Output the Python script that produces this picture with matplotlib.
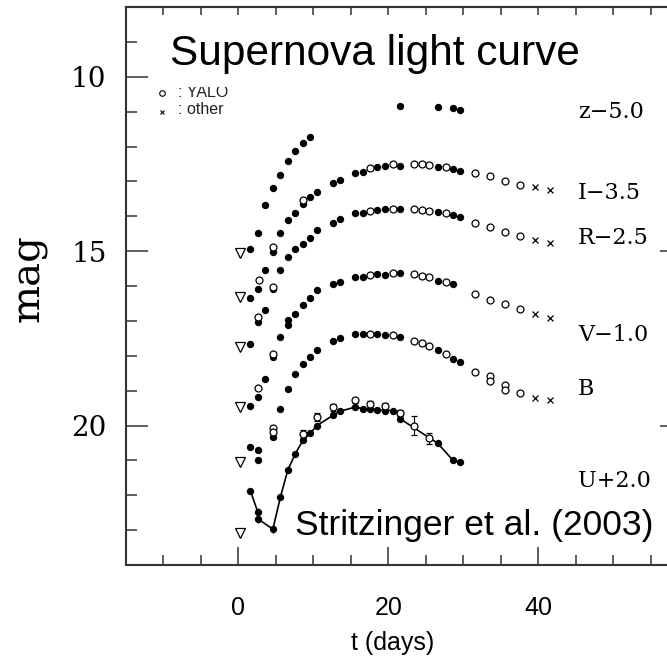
import numpy as np
import matplotlib.pyplot as plt
from matplotlib.ticker import MultipleLocator

# light curves of the supernova, t in days, magnitudes with band offsets applied
# kind per point: 'f' filled dot, 'o' YALO, 'x' other (spaces only group the codes)
z_t = [1.6, 2.6, 3.6, 4.6, 5.6, 6.6, 7.6, 8.6, 9.6, 21.6, 26.6, 28.6, 29.6]
z_m = [14.95, 14.49, 13.68, 13.18, 12.82, 12.43, 12.12, 11.91, 11.73, 10.83, 10.87, 10.90, 10.95]
z_kind = "fff fff fff fff f"

I_t = [1.6, 2.6, 2.7, 3.6, 4.6, 4.6, 5.6, 6.6, 7.6, 8.6, 8.6, 9.6, 10.5, 12.6, 13.6, 15.6, 16.6,
       17.6, 18.5, 19.5, 20.6, 21.6, 23.5, 24.5, 25.5, 26.6, 27.7, 28.6, 29.6, 31.6, 33.6, 35.6,
       37.6, 39.6, 41.6]
I_m = [16.33, 16.10, 15.83, 15.53, 15.02, 14.88, 14.47, 14.12, 13.90, 13.65, 13.53, 13.44, 13.30,
       13.04, 12.96, 12.77, 12.72, 12.62, 12.58, 12.56, 12.50, 12.56, 12.50, 12.51, 12.53, 12.58,
       12.60, 12.65, 12.70, 12.75, 12.86, 12.98, 13.11, 13.15, 13.25]
I_kind = "ffo ffo fff fof fff ffo ffo foo ofo ffo ooo xx"

R_t = [1.6, 2.6, 2.6, 3.6, 4.6, 4.6, 5.6, 6.6, 7.6, 8.6, 9.6, 10.5, 12.6, 13.6, 15.6, 16.6, 17.6,
       18.5, 19.5, 20.6, 21.6, 23.5, 24.5, 25.5, 26.6, 27.7, 28.6, 29.6, 31.6, 33.6, 35.6, 37.6,
       39.6, 41.6]
R_m = [17.67, 17.03, 16.89, 16.68, 16.10, 16.03, 15.53, 15.17, 14.95, 14.80, 14.61, 14.40, 14.19,
       14.09, 13.92, 13.92, 13.84, 13.82, 13.80, 13.79, 13.79, 13.79, 13.82, 13.84, 13.87, 13.92,
       13.97, 14.01, 14.18, 14.32, 14.45, 14.57, 14.68, 14.76]
R_kind = "ffo ffo fff fff fff fof fof ooo fof foo oox x"

V_t = [1.6, 2.6, 2.6, 3.6, 4.6, 4.6, 5.6, 6.6, 6.6, 7.6, 8.6, 9.6, 10.5, 12.6, 13.6, 15.6, 16.6,
       17.6, 18.5, 19.5, 20.6, 21.6, 23.5, 24.5, 25.5, 26.6, 27.7, 28.6, 31.6, 33.6, 35.6, 37.6,
       39.6, 41.6]
V_m = [19.43, 19.19, 18.92, 18.66, 18.04, 17.94, 17.47, 17.12, 16.98, 16.80, 16.55, 16.35, 16.12,
       15.93, 15.88, 15.74, 15.74, 15.69, 15.67, 15.69, 15.63, 15.64, 15.66, 15.72, 15.74, 15.85,
       15.88, 15.95, 16.22, 16.41, 16.53, 16.67, 16.81, 16.91]
V_kind = "ffo ffo fff fff fff ffo ffo foo ofo foo oox x"

B_t = [1.6, 2.6, 2.6, 4.6, 4.6, 4.6, 5.6, 6.6, 7.6, 8.6, 9.6, 10.5, 12.6, 13.6, 15.6, 16.6, 17.6,
       18.5, 19.5, 20.6, 21.6, 23.5, 24.5, 25.5, 26.6, 27.7, 28.6, 29.6, 31.6, 33.6, 33.6, 35.6,
       35.6, 37.6, 39.6, 41.6]
B_m = [20.62, 20.70, 20.99, 20.34, 20.07, 20.19, 19.52, 18.94, 18.53, 18.25, 18.04, 17.84, 17.58,
       17.48, 17.39, 17.37, 17.37, 17.39, 17.41, 17.41, 17.46, 17.58, 17.63, 17.73, 17.84, 17.94,
       18.08, 18.18, 18.47, 18.59, 18.71, 18.85, 18.97, 19.07, 19.20, 19.26]
B_kind = "fff foo fff fff fff fof fof ooo fof foo ooo oxx"

# U band: filled points joined by a line, YALO points with error bars
U_t = [1.6, 2.6, 2.6, 4.6, 5.6, 6.6, 7.6, 8.6, 9.6, 10.5, 12.6, 13.6, 15.6, 16.6, 17.6, 18.5,
       19.5, 20.6, 21.6, 21.6, 26.6, 28.6, 29.6]
U_m = [21.87, 22.49, 22.68, 22.97, 22.06, 21.27, 20.81, 20.43, 20.22, 20.00, 19.71, 19.59, 19.47,
       19.52, 19.52, 19.55, 19.57, 19.57, 19.66, 19.81, 20.51, 20.99, 21.05]
U_err = [0, 0.12, 0.12, 0.12, 0, 0, 0, 0, 0, 0, 0, 0, 0, 0, 0, 0, 0, 0, 0, 0, 0, 0, 0]
U_yalo_t = [8.6, 10.5, 12.6, 15.6, 17.6, 19.5, 21.6, 23.5, 25.5]
U_yalo_m = [20.24, 19.76, 19.47, 19.28, 19.37, 19.43, 19.63, 20.00, 20.37]
U_yalo_err = [0.12, 0.12, 0.10, 0.08, 0.08, 0.08, 0.08, 0.27, 0.15]

# upper limits at t = 0 for z, I, R, V, B, U
lim_t = [0.2, 0.2, 0.2, 0.2, 0.2, 0.2]
lim_m = [15.05, 16.31, 17.75, 19.47, 21.05, 23.07]

band_labels = ["z\u22125.0", "I\u22123.5", "R\u22122.5", "V\u22121.0", "B", "U+2.0"]
xtick_vals = [0, 20, 40]
xtick_labels = ["0", "20", "40"]
ytick_vals = [10, 15, 20]

W, H = 667, 661
SANS = "Liberation Sans"
SERIF = "DejaVu Serif"
DARK = "#333333"


def fx(px):
    return px / W


def fy(py):
    return 1 - py / H


def plot_band(ax, t, m, kind):
    t = np.asarray(t)
    m = np.asarray(m)
    k = np.array(list(kind.replace(" ", "")))
    f, o, x = k == "f", k == "o", k == "x"
    ax.plot(t[f], m[f], "o", color="k", ms=5.3, mew=0)
    ax.plot(t[o], m[o], "o", mfc="white", mec="k", ms=5, mew=0.9)
    ax.plot(t[x], m[x], "x", color="k", ms=4, mew=0.9)


fig = plt.figure(figsize=(W / 100, H / 100), dpi=100)
ax = fig.add_axes([fx(126), fy(565), (688 - 126) / W, (565 - 7) / H])

for t, m, kind in [(z_t, z_m, z_kind), (I_t, I_m, I_kind), (R_t, R_m, R_kind),
                   (V_t, V_m, V_kind), (B_t, B_m, B_kind)]:
    plot_band(ax, t, m, kind)

ax.errorbar(U_t, U_m, yerr=U_err, fmt="-o", color="k", ms=5.3, mew=0, lw=1.2,
            elinewidth=0.8, capsize=2.5)
ax.errorbar(U_yalo_t, U_yalo_m, yerr=U_yalo_err, fmt="o", mfc="white", mec="k",
            ecolor="k", ms=5, mew=0.9, elinewidth=0.8, capsize=2.5)
ax.plot(lim_t, lim_m, "v", mfc="white", mec="k", ms=7, mew=0.9)

# band labels on the right
label_m = [11.01, 13.33, 14.62, 17.40, 18.94, 21.58]
for lab, ym in zip(band_labels, label_m):
    ax.text(45.3, ym, lab, family=SERIF, fontsize=16, va="center", ha="left")

ax.set_xlim(-15, 60)
ax.set_ylim(24, 8)

for s in ax.spines.values():
    s.set_color(DARK)
    s.set_linewidth(1.5)

ax.set_xticks(xtick_vals)
ax.set_xticklabels(xtick_labels, family=SANS, fontsize=18)
ax.xaxis.set_minor_locator(MultipleLocator(5))
ax.set_yticks(ytick_vals)
ax.set_yticklabels([str(v) for v in ytick_vals], family=SERIF, fontsize=20)
ax.yaxis.set_minor_locator(MultipleLocator(1))

ax.tick_params(axis="x", which="major", direction="in", length=13, width=1.1,
               color=DARK, pad=22, top=False)
ax.tick_params(axis="x", which="minor", direction="in", length=7, width=1.1,
               color=DARK, top=False)
ax.tick_params(axis="y", which="major", direction="in", length=16, width=1.1,
               color=DARK, pad=14, right=False)
ax.tick_params(axis="y", which="minor", direction="in", length=8, width=1.1,
               color=DARK, right=False)

top = ax.secondary_xaxis("top")
top.set_xticks(np.arange(-10, 60, 5))
top.tick_params(direction="in", length=5.8, width=1.1, color=DARK, labeltop=False)
top.spines["top"].set_color(DARK)
top.spines["top"].set_linewidth(1.5)

right = ax.secondary_yaxis("right")
right.set_yticks([15, 20])
right.tick_params(direction="in", length=20, width=1.1, color=DARK, labelright=False)

ax.set_xlabel("t (days)", family=SANS, fontsize=18)
ax.xaxis.set_label_coords((393 - 126) / 562, -0.118)
ax.set_ylabel("mag", family=SERIF, fontsize=29)
ax.yaxis.set_label_coords(-0.14, 0.515)

# legend
ax.plot([-10.2], [10.47], "o", mfc="white", mec="k", ms=4, mew=0.8)
ax.plot([-10.2], [11.0], "x", color="k", ms=3.5, mew=0.8)
ax.text(-8.0, 10.45, ": YALO", family=SANS, fontsize=11.5, va="center", color="#222222")
ax.text(-8.0, 10.95, ": other", family=SANS, fontsize=11.5, va="center", color="#222222")

fig.text(fx(170), fy(65), "Supernova light curve", family=SANS, fontsize=30.5,
         va="baseline", ha="left",
         bbox=dict(facecolor="white", edgecolor="none", pad=9))
fig.text(fx(295), fy(535), "Stritzinger et al. (2003)", family=SANS, fontsize=25.5,
         va="baseline", ha="left")

fig.savefig("out.png", dpi=100)
